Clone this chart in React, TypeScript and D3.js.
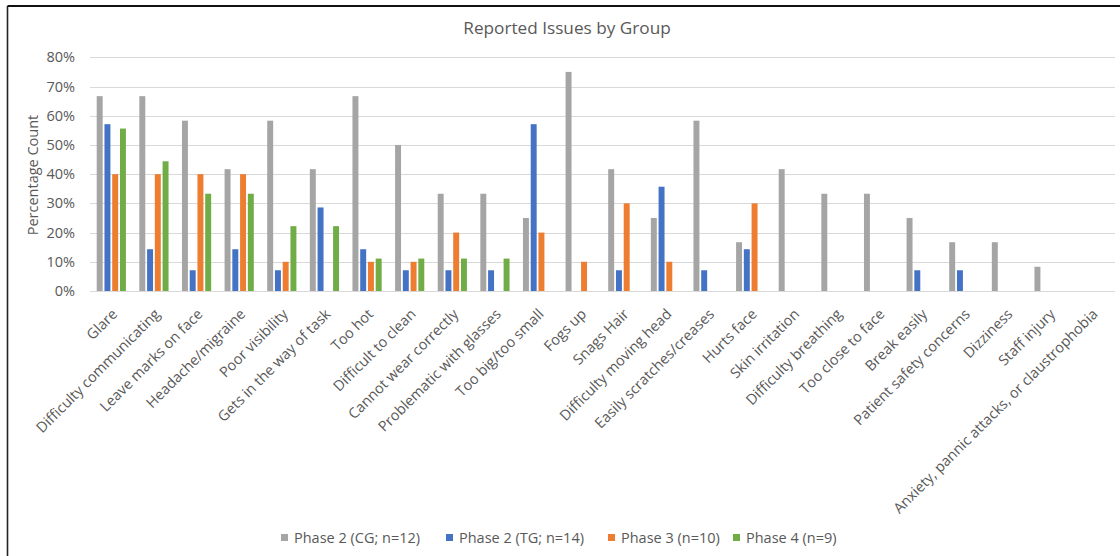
import React from "react";
import * as d3 from "d3";

const categories = [
  "Glare",
  "Difficulty communicating",
  "Leave marks on face",
  "Headache/migraine",
  "Poor visibility",
  "Gets in the way of task",
  "Too hot",
  "Difficult to clean",
  "Cannot wear correctly",
  "Problematic with glasses",
  "Too big/too small",
  "Fogs up",
  "Snags Hair",
  "Difficulty moving head",
  "Easily scratches/creases",
  "Hurts face",
  "Skin irritation",
  "Difficulty breathing",
  "Too close to face",
  "Break easily",
  "Patient safety concerns",
  "Dizziness",
  "Staff injury",
  "Anxiety, pannic attacks, or claustrophobia",
];

const seriesNames = [
  "Phase 2 (CG; n=12)",
  "Phase 2 (TG; n=14)",
  "Phase 3 (n=10)",
  "Phase 4 (n=9)",
];

const phase2CG = [66.7, 66.7, 58.3, 41.7, 58.3, 41.7, 66.7, 50, 33.3, 33.3, 25, 75, 41.7, 25, 58.3, 16.7, 41.7, 33.3, 33.3, 25, 16.7, 16.7, 8.3, 0];
const phase2TG = [57.1, 14.3, 7.1, 14.3, 7.1, 28.6, 14.3, 7.1, 7.1, 7.1, 57.1, 0, 7.1, 35.7, 7.1, 14.3, 0, 0, 0, 7.1, 7.1, 0, 0, 0];
const phase3 = [40, 40, 40, 40, 10, 0, 10, 10, 20, 0, 20, 10, 30, 10, 0, 30, 0, 0, 0, 0, 0, 0, 0, 0];
const phase4 = [55.6, 44.4, 33.3, 33.3, 22.2, 22.2, 11.1, 11.1, 11.1, 11.1, 0, 0, 0, 0, 0, 0, 0, 0, 0, 0, 0, 0, 0, 0];

const yTicks = [0, 10, 20, 30, 40, 50, 60, 70, 80];

const seriesValues = [phase2CG, phase2TG, phase3, phase4];
const colors = ["#A5A5A5", "#4472C4", "#ED7D31", "#70AD47"];
const legendX = [281, 446, 608, 733];

const W = 1120;
const H = 556;
const FONT = "'Open Sans', 'DejaVu Sans', sans-serif";
const TXT = "#595959";
const FS = 14.5;

export default function App() {
  const x = d3.scaleBand<string>().domain(categories).range([90, 1113]).padding(0);
  const groupW = 31;
  const xs = d3.scaleBand<string>().domain(seriesNames).range([0, groupW]).padding(0);
  const y = d3.scaleLinear().domain([0, 80]).range([291, 57.3]);
  const barW = xs.bandwidth() - 1.8;

  return (
    <svg
      width={W}
      height={H}
      style={{ position: "absolute", left: 0, top: 0, background: "#fff" }}
      fontFamily={FONT}
    >
      <rect x={0} y={0} width={W} height={H} fill="#fff" />
      {/* frame */}
      <line x1={7.5} y1={6} x2={W} y2={6} stroke="#111" strokeWidth={2} />
      <line x1={7.5} y1={6} x2={7.5} y2={H} stroke="#222" strokeWidth={1.6} />

      <text x={567} y={34} textAnchor="middle" fontSize={17.2} fill={TXT}>
        Reported Issues by Group
      </text>

      {/* gridlines */}
      {yTicks.map((t) => (
        <line
          key={t}
          x1={90}
          x2={1115}
          y1={Math.round(y(t)) + 0.5}
          y2={Math.round(y(t)) + 0.5}
          stroke="#D9D9D9"
          strokeWidth={1.2}
        />
      ))}
      {yTicks.map((t) => (
        <text key={"l" + t} x={75} y={y(t) + 5} textAnchor="end" fontSize={FS} fill={TXT}>
          {t}%
        </text>
      ))}
      <text
        transform={`translate(38,175) rotate(-90)`}
        textAnchor="middle"
        fontSize={FS}
        fill={TXT}
      >
        Percentage Count
      </text>

      {/* bars */}
      {categories.map((c, i) => {
        const cx = (x(c) as number) + x.bandwidth() / 2;
        const gx = cx - groupW / 2;
        return (
          <g key={c}>
            {seriesNames.map((s, k) => {
              const v = seriesValues[k][i];
              if (!v) return null;
              const bx = gx + (xs(s) as number) + (xs.bandwidth() - barW) / 2;
              return (
                <rect
                  key={s}
                  x={bx}
                  y={y(v)}
                  width={barW}
                  height={y(0) - y(v)}
                  fill={colors[k]}
                />
              );
            })}
          </g>
        );
      })}

      {/* x labels */}
      {categories.map((c) => {
        const cx = (x(c) as number) + x.bandwidth() / 2;
        return (
          <text
            key={"x" + c}
            transform={`translate(${cx + 7},${315}) rotate(-45)`}
            textAnchor="end"
            fontSize={FS}
            fill={TXT}
          >
            {c}
          </text>
        );
      })}

      {/* legend */}
      {seriesNames.map((s, k) => (
        <g key={"lg" + s} transform={`translate(${legendX[k]},0)`}>
          <rect x={0} y={534} width={7} height={7} fill={colors[k]} />
          <text x={13} y={543} fontSize={FS} fill={TXT}>
            {s}
          </text>
        </g>
      ))}
    </svg>
  );
}
